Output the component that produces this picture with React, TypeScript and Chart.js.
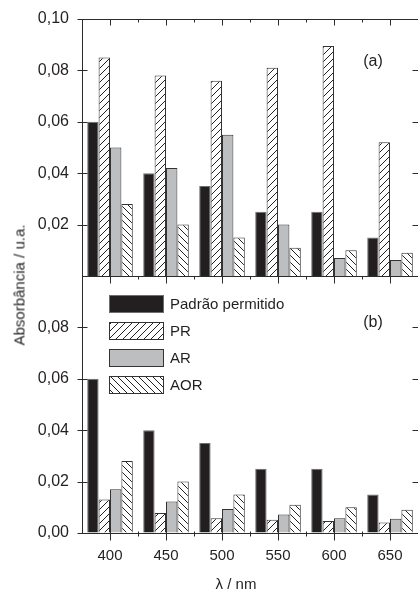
import React, { useEffect, useRef } from 'react';
import { Chart, registerables } from 'chart.js';

Chart.register(...registerables);

const categories = ['400', '450', '500', '550', '600', '650'];
const seriesNames = ['Padrão permitido', 'PR', 'AR', 'AOR'];
const padraoPermitido = [0.060, 0.040, 0.035, 0.025, 0.025, 0.015];
const prA = [0.085, 0.078, 0.076, 0.081, 0.0895, 0.052];
const arA = [0.050, 0.042, 0.055, 0.020, 0.007, 0.0062];
const aorA = [0.028, 0.020, 0.015, 0.011, 0.010, 0.009];
const prB = [0.013, 0.0078, 0.0057, 0.0052, 0.0047, 0.0041];
const arB = [0.017, 0.0123, 0.0093, 0.0072, 0.0057, 0.0055];
const aorB = [0.028, 0.020, 0.015, 0.011, 0.010, 0.009];
const yLabelsTop = [0.02, 0.04, 0.06, 0.08, 0.10];
const yLabelsBottom = [0.00, 0.02, 0.04, 0.06, 0.08];
const panelLabels = ['(a)', '(b)'];
const xTitle = 'λ / nm';
const yTitle = 'Absorbância / u.a.';

const FONT = '"Liberation Sans", Arial, Helvetica, sans-serif';
const INK = '#231f20';

function hatch(ctx: CanvasRenderingContext2D, dir: 'fwd' | 'back', size = 7): CanvasPattern {
  const c = document.createElement('canvas');
  c.width = size;
  c.height = size;
  const g = c.getContext('2d')!;
  g.fillStyle = '#ffffff';
  g.fillRect(0, 0, size, size);
  g.strokeStyle = '#222';
  g.lineWidth = 1;
  g.beginPath();
  if (dir === 'fwd') {
    g.moveTo(-1, size + 1);
    g.lineTo(size + 1, -1);
    g.moveTo(-1, 1);
    g.lineTo(1, -1);
    g.moveTo(size - 1, size + 1);
    g.lineTo(size + 1, size - 1);
  } else {
    g.moveTo(-1, -1);
    g.lineTo(size + 1, size + 1);
    g.moveTo(size - 1, -1);
    g.lineTo(size + 1, 1);
    g.moveTo(-1, size - 1);
    g.lineTo(1, size + 1);
  }
  g.stroke();
  return ctx.createPattern(c, 'repeat')!;
}

const fmt = (v: number) => v.toFixed(2).replace('.', ',');

function frameTicksPlugin(panel: 'a' | 'b') {
  return {
    id: 'frameTicks' + panel,
    afterDraw(chart: any) {
      const { ctx, chartArea: a, scales } = chart;
      const xs = scales.x;
      const ys = scales.y;
      const L = Math.round(a.left) + 0.5;
      const R = Math.round(a.right) + 0.5;
      const T = Math.round(a.top) + 0.5;
      const B = Math.round(a.bottom) + 0.5;
      ctx.save();
      ctx.strokeStyle = '#2b2b2b';
      ctx.lineWidth = 1;
      ctx.beginPath();
      ctx.moveTo(L, T);
      ctx.lineTo(R, T);
      ctx.moveTo(L, T - 0.5);
      ctx.lineTo(L, B + 0.5);
      ctx.moveTo(R, T);
      ctx.lineTo(R, B);
      ctx.moveTo(L, B);
      ctx.lineTo(R, B);
      ys.ticks.forEach((t: any) => {
        const py = Math.round(ys.getPixelForValue(t.value)) + 0.5;
        const major = Math.round(t.value * 100) % 2 === 0;
        ctx.moveTo(L - (major ? 5 : 4), py);
        ctx.lineTo(L + (major ? 5 : 3), py);
        ctx.moveTo(R, py);
        ctx.lineTo(R - (major ? 6 : 3), py);
      });
      const n = categories.length;
      for (let i = 0; i < n; i++) {
        const px = Math.round(xs.getPixelForValue(i)) + 0.5;
        ctx.moveTo(px, T);
        ctx.lineTo(px, T + (panel === 'a' ? 6 : 7));
        if (panel === 'b') {
          ctx.moveTo(px, B - 5);
          ctx.lineTo(px, B + 7);
        }
        if (i < n - 1) {
          const mx = Math.round((xs.getPixelForValue(i) + xs.getPixelForValue(i + 1)) / 2) + 0.5;
          ctx.moveTo(mx, T);
          ctx.lineTo(mx, T + 3);
          if (panel === 'b') {
            ctx.moveTo(mx, B - 2);
            ctx.lineTo(mx, B + 3);
          }
        }
      }
      ctx.stroke();
      ctx.fillStyle = INK;
      ctx.font = '16px ' + FONT;
      ctx.textAlign = 'center';
      ctx.textBaseline = 'middle';
      const lbl = panel === 'a' ? panelLabels[0] : panelLabels[1];
      ctx.fillText(lbl, a.left + 291, a.top + (panel === 'a' ? 43 : 47));
      ctx.restore();
    },
  };
}

const legendPlugin = {
  id: 'boxLegend',
  afterDatasetsDraw(chart: any) {
    const { ctx, chartArea: a } = chart;
    ctx.save();
    chart.data.datasets.forEach((ds: any, i: number) => {
      const x = a.left + 27;
      const y = a.top + 19 + i * 27;
      ctx.fillStyle = ds.backgroundColor;
      ctx.fillRect(x, y, 55, 18);
      ctx.strokeStyle = i === 0 ? '#6d6e70' : '#333';
      ctx.lineWidth = 1;
      ctx.strokeRect(x + 0.5, y + 0.5, 54, 17);
      ctx.fillStyle = INK;
      ctx.font = '15px ' + FONT;
      ctx.textAlign = 'left';
      ctx.textBaseline = 'middle';
      ctx.fillText(ds.label, x + 61, y + 9.5);
    });
    ctx.restore();
  },
};

function buildChart(canvas: HTMLCanvasElement, panel: 'a' | 'b') {
  const ctx = canvas.getContext('2d')!;
  const fwd = hatch(ctx, 'fwd');
  const back = hatch(ctx, 'back');
  const pr = panel === 'a' ? prA : prB;
  const ar = panel === 'a' ? arA : arB;
  const aor = panel === 'a' ? aorA : aorB;
  const yLabels = panel === 'a' ? yLabelsTop : yLabelsBottom;
  const datasets = [
    { label: seriesNames[0], data: padraoPermitido, backgroundColor: INK, borderColor: '#6d6e70', borderWidth: 1 },
    { label: seriesNames[1], data: pr, backgroundColor: fwd, borderColor: '#333', borderWidth: 1 },
    { label: seriesNames[2], data: ar, backgroundColor: '#bcbec0', borderColor: '#333', borderWidth: 1 },
    { label: seriesNames[3], data: aor, backgroundColor: back, borderColor: '#333', borderWidth: 1 },
  ];
  const plugins: any[] = [frameTicksPlugin(panel)];
  if (panel === 'b') plugins.push(legendPlugin);
  const xScale: any = {
    type: 'category',
    display: panel === 'b',
    offset: true,
    grid: { display: false },
    border: { display: false },
    ticks: { color: INK, font: { family: FONT, size: 15 }, padding: 6, maxRotation: 0, autoSkip: false },
  };
  if (panel === 'b') {
    xScale.afterFit = (s: any) => {
      s.height = 59;
    };
  }
  return new Chart(canvas, {
    type: 'bar',
    data: { labels: categories, datasets: datasets as any },
    plugins,
    options: {
      responsive: false,
      animation: false,
      devicePixelRatio: 1,
      layout: { padding: panel === 'a' ? { top: 19, bottom: 10, left: 0, right: 0 } : { top: 10, bottom: 0, left: 0, right: 0 } },
      datasets: { bar: { categoryPercentage: 0.814, barPercentage: 1 } },
      plugins: { legend: { display: false }, tooltip: { enabled: false } },
      scales: {
        x: xScale,
        y: {
          min: 0,
          max: 0.1,
          grid: { display: true, drawOnChartArea: false, drawTicks: true, tickLength: 13, tickColor: 'rgba(0,0,0,0)' },
          border: { display: false },
          ticks: {
            stepSize: 0.01,
            autoSkip: false,
            padding: 0,
            color: INK,
            font: { family: FONT, size: 16 },
            callback: (v: any) => {
              const n = Number(v);
              return yLabels.some((l) => Math.abs(l - n) < 1e-6) ? fmt(n) : null;
            },
          },
          afterFit: (s: any) => {
            s.width = 82;
          },
        },
      },
    } as any,
  });
}

export default function App() {
  const topRef = useRef<HTMLCanvasElement>(null);
  const botRef = useRef<HTMLCanvasElement>(null);
  useEffect(() => {
    const c1 = buildChart(topRef.current!, 'a');
    const c2 = buildChart(botRef.current!, 'b');
    return () => {
      c1.destroy();
      c2.destroy();
    };
  }, []);
  return (
    <div style={{ position: 'fixed', left: 0, top: 0, width: 418, height: 592, background: '#fff', overflow: 'hidden', fontFamily: FONT, color: INK }}>
      <canvas ref={topRef} width={418} height={286} style={{ position: 'absolute', left: 0, top: 0, width: 418, height: 286 }} />
      <canvas ref={botRef} width={418} height={326} style={{ position: 'absolute', left: 0, top: 266, width: 418, height: 326 }} />
      <div style={{ position: 'absolute', left: 19, top: 285, transform: 'translate(-50%,-50%) rotate(-90deg)', whiteSpace: 'nowrap', fontSize: 15, lineHeight: '1' }}>
        {yTitle}
      </div>
      <div style={{ position: 'absolute', left: 236, top: 583, transform: 'translate(-50%,-50%)', whiteSpace: 'nowrap', fontSize: 15, lineHeight: '1' }}>
        {xTitle}
      </div>
    </div>
  );
}
